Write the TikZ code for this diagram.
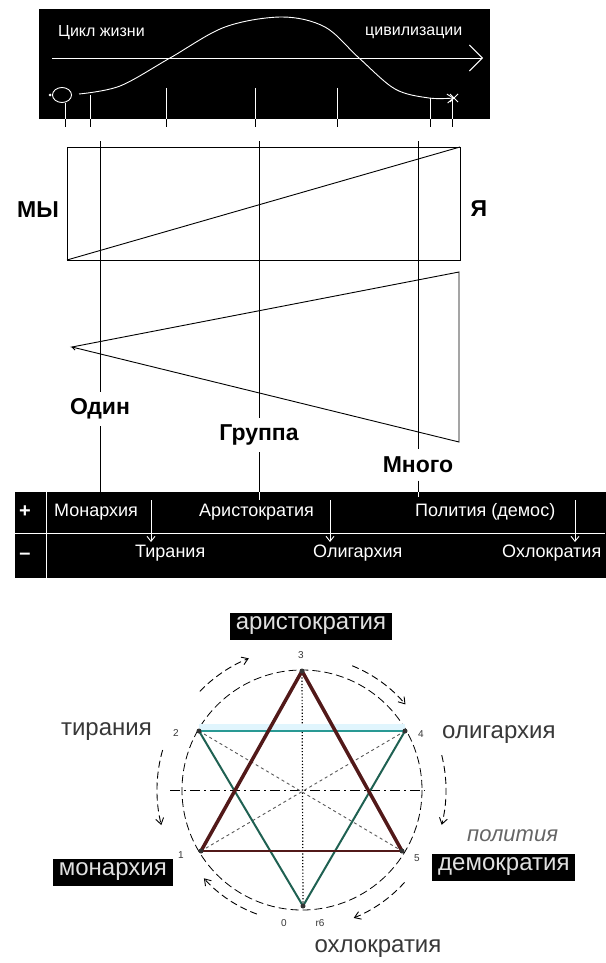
\documentclass[tikz,border=0pt]{standalone}
\usepackage{fontspec}
\setmainfont{Liberation Sans}
\usetikzlibrary{arrows.meta,calc,positioning}
\definecolor{starred}{rgb}{0.32,0.1,0.1}
\definecolor{starteal}{rgb}{0.16,0.6,0.58}
\definecolor{stargreen}{rgb}{0.12,0.38,0.32}
\definecolor{labelgray}{rgb}{0.22,0.22,0.22}
\definecolor{boxtext}{rgb}{0.88,0.88,0.88}
\tikzset{
  barb/.style={-{Straight Barb[length=5pt,width=8pt]}},
  whiteline/.style={draw=white,line width=.9pt},
  guide/.style={line width=.9pt},
  biglabel/.style={font=\fontsize{23}{23}\selectfont\bfseries,inner sep=0pt},
  linelabel/.style={biglabel,minimum height=34pt},
  bandtext/.style={text=white,font=\fontsize{16}{16}\selectfont,anchor=west,inner sep=0pt},
  tabletext/.style={text=white,font=\fontsize{18}{18}\selectfont,anchor=west,inner sep=0pt},
  boxlabel/.style={fill=black,text=boxtext,font=\fontsize{24}{24}\selectfont,inner xsep=6pt,inner ysep=0pt,minimum height=27pt},
  plainlabel/.style={text=labelgray,font=\fontsize{24}{24}\selectfont,inner sep=0pt},
  vertexnum/.style={text=labelgray,font=\fontsize{10}{10}\selectfont,inner sep=0pt},
  cyclearrow/.style={dash pattern=on 7pt off 4pt,line width=.9pt,-{Straight Barb[length=6pt,width=8pt]}}
}
\begin{document}
\begin{tikzpicture}[x=1pt,y=-1pt]
\useasboundingbox (0,0) rectangle (605,963);
\fill[white] (0,0) rectangle (605,963);
% life cycle band
\fill (39,9) rectangle (490,119);
\node[bandtext] (life) at (58,33) {Цикл жизни};
\node[bandtext] (civil) at (365,33) {цивилизации};
\draw[whiteline,-{Straight Barb[length=13pt,width=26pt]}] (52,58) -- (483,58);
\draw[whiteline,-{Straight Barb[length=6pt,width=9pt]}] plot[smooth,tension=.55] coordinates {(79,94) (120,86) (170,58) (225,27) (282,17) (325,27) (359,58) (395,89) (429,98) (454,98)};
\draw[whiteline] (62,95) ellipse[x radius=9.5,y radius=7.5];
\fill[white] (50,95) circle (1.5);
\draw[whiteline] (450,94) -- (458,102) (450,102) -- (458,94);
\foreach \x/\t in {65/103,90/95,166/88,255/88,337/88,430/98,452/98}{
  \draw[whiteline] (\x,\t) -- (\x,119);
  \draw[guide] (\x,119) -- (\x,127);
}
% we / I
\draw[guide] (67,147) rectangle (460,260);
\draw[guide] (67,260) -- (460,147);
\draw[guide] (459,272) -- (72,347) -- (459,442) -- cycle;
\draw[guide] (72,347) -- (75,350);
\node[biglabel] (we) at (38,210) {МЫ};
\node[biglabel] (me) at (479,209) {Я};
\node[linelabel] (one) at (100,409) {Один};
\node[linelabel] (group) at (259,435) {Группа};
\node[linelabel,minimum height=31pt] (many) at (418,465) {Много};
\draw[guide] (one.north |- 0,141) -- (one.north);
\draw[guide] (one.south) -- (one.south |- 0,492);
\draw[guide] (group.north |- 0,141) -- (group.north);
\draw[guide] (group.south) -- (group.south |- 0,492);
\draw[guide] (many.north |- 0,141) -- (many.north);
\draw[guide] (many.south) -- (many.south |- 0,492);
% forms of government
\fill (15,492) rectangle (615,578);
\draw[whiteline] (46,492) -- (46,578);
\draw[whiteline] (15,533) -- (605,533);
\draw[whiteline] (259,492) -- (259,500);
\draw[whiteline] (418,492) -- (418,497);
\node[text=white,font=\fontsize{20}{20}\selectfont\bfseries] (plus) at (25,512) {+};
\node[text=white,font=\fontsize{20}{20}\selectfont\bfseries] (minus) at (25,556) {--};
\node[tabletext] (monarchy) at (54,512) {Монархия};
\node[tabletext] (aristocracy) at (199,512) {Аристократия};
\node[tabletext] (polity) at (415,512) {Полития (демос)};
\node[tabletext] (tyranny) at (135,553) {Тирания};
\node[tabletext] (oligarchy) at (313,553) {Олигархия};
\node[tabletext] (ochlocracy) at (502,553) {Охлократия};
\foreach \x in {151,330,575}
  \draw[whiteline,barb] (\x,500) -- (\x,542);
% hexagram
\coordinate (O) at (302,790);
\coordinate (v3) at (302,671);
\coordinate (v2) at (199,731);
\coordinate (v4) at (405,731);
\coordinate (v1) at (201,851);
\coordinate (v5) at (402,851);
\coordinate (v6) at (303,906);
\draw[dash pattern=on 8pt off 4pt,line width=.8pt] (O) circle (120);
\draw[line width=.8pt,dash pattern=on 10pt off 4pt on 2pt off 4pt] (170,790) -- (425,790);
\draw[line width=1.2pt,dotted] (v3) -- (v6);
\draw[line width=.9pt,dashed,black!65] (v2) -- (v5) (v4) -- (v1);
\draw[cyan!12,line width=8pt] ([yshift=3pt]v2) -- ([yshift=3pt]v4);
\draw[stargreen,line width=2pt] (v2) -- (v6) -- (v4);
\draw[starteal,line width=2.2pt] (v2) -- (v4);
\draw[starred,line width=3.5pt,line join=round] (v1) -- (v3) -- (v5);
\draw[starred,line width=2.2pt] (v1) -- (v5);
\foreach \v in {v1,v2,v3,v4,v5,v6}
  \fill[black!80] (\v) circle (2.5);
\draw[cyclearrow] ($(O)+(-136:142)$) arc[start angle=-136,end angle=-112,radius=142];
\draw[cyclearrow] ($(O)+(-68:134)$) arc[start angle=-68,end angle=-40,radius=136];
\draw[cyclearrow] ($(O)+(-14:144)$) arc[start angle=-14,end angle=14,radius=144];
\draw[cyclearrow] ($(O)+(42:138)$) arc[start angle=42,end angle=68,radius=138];
\draw[cyclearrow] ($(O)+(110:132)$) arc[start angle=110,end angle=138,radius=132];
\draw[cyclearrow] ($(O)+(196:145)$) arc[start angle=196,end angle=166,radius=145];
\node[boxlabel] (aristo) at (311,626) {аристократия};
\node[plainlabel,anchor=east] (tyr) at (152,732) {тирания};
\node[plainlabel,anchor=west] (olig) at (442,735) {олигархия};
\node[boxlabel,anchor=east] (mon) at (173,872) {монархия};
\node[boxlabel,anchor=west] (dem) at (432,867) {демократия};
\node[plainlabel,anchor=west,text=black!60,font=\fontsize{22}{22}\selectfont\itshape] (pol) at (467,836) {полития};
\node[plainlabel] (ochlo) at (378,949) {охлократия};
\node[vertexnum] (n3) at (301,655) {3};
\node[vertexnum] (n2) at (176,733) {2};
\node[vertexnum] (n4) at (421,734) {4};
\node[vertexnum] (n1) at (181,855) {1};
\node[vertexnum] (n5) at (417,858) {5};
\node[vertexnum] (n0) at (284,923) {0};
\node[vertexnum] (n6) at (320,923) {r6};
\end{tikzpicture}
\end{document}
